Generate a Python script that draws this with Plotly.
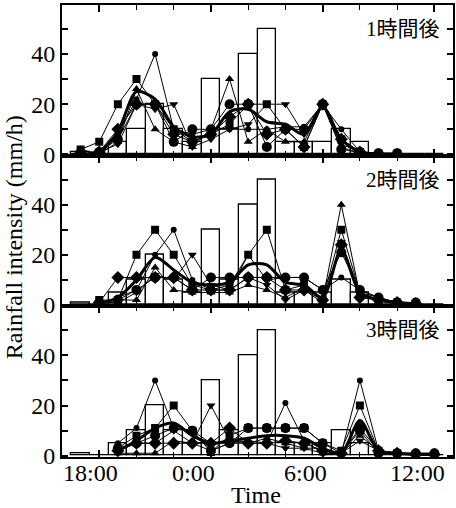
import plotly.graph_objects as go
from plotly.subplots import make_subplots

# ---------------- data ----------------
obs_hours = list(range(17, 37))
obs_rain = [1, 0, 5, 10, 20, 10, 5, 30, 10, 40, 50, 5, 5, 5, 10, 5, 0, 0, 0, 0]

panel_labels = ["1時間後", "2時間後", "3時間後"]

hours_p1 = list(range(17, 35))
hours_p2 = list(range(18, 36))
hours_p3 = list(range(19, 37))

# panel 1 (1 hour ahead)
p1_small_circle = [0, 0, 8, 22, 40, 10, 8, 10, 10, 10, 10, 11, 11, 20, 10, 1, 0.5, 0.5]
p1_big_circle   = [0, 1, 6, 20, 20, 5, 10, 10, 20, 20, 3, 10, 10, 20, 2, 1, 0.5, 0.5]
p1_square       = [2, 5, 20, 30, 20, 10, 5, 8, 12, 20, 20, 10, 3, 20, 6, 1, 0, 0]
p1_tri_up       = [2, 0, 5, 26, 10, 5, 3, 10, 30, 5, 10, 5, 5, 20, 3, 0, 0, 0]
p1_tri_down     = [0, 1, 4, 20, 18, 20, 3, 6, 10, 12, 20, 20, 8, 20, 4, 1, 0, 0]
p1_diamond      = [1, 1, 10, 20, 20, 8, 5, 8, 15, 20, 8, 10, 3, 20, 6, 1, 0, 0]
p1_thick        = [0, 1, 9, 25, 22, 11, 7, 8, 17, 18, 13, 12, 8, 19, 6, 1, 0, 0]

# panel 2 (2 hours ahead)
p2_small_circle = [1, 3, 6, 20, 30, 10, 6, 6, 20, 10, 11, 11, 6, 11, 6, 3, 1, 1]
p2_big_circle   = [1, 2, 6, 11, 11, 6, 11, 11, 11, 11, 11, 11, 6, 21, 6, 3, 1, 1]
p2_square       = [2, 2, 20, 30, 20, 8, 6, 8, 20, 30, 6, 8, 2, 30, 5, 2, 1, 0.5]
p2_tri_up       = [1, 2, 2, 15, 6, 5, 5, 5, 8, 6, 3, 7, 2, 40, 4, 2, 1, 0.5]
p2_tri_down     = [1, 1, 5, 12, 10, 20, 8, 6, 11, 8, 2, 6, 1, 25, 5, 3, 1, 0.5]
p2_diamond      = [1, 11, 11, 11, 11, 6, 6, 6, 11, 11, 6, 6, 2, 24, 3, 2, 1, 0.5]
p2_thick        = [0.5, 3, 10, 19, 14, 9, 8, 9, 16, 16, 9, 8, 3, 22, 5, 2, 1, 0.5]

# panel 3 (3 hours ahead)
p3_small_circle = [5, 11, 30, 11, 10, 5, 5, 6, 5, 21, 6, 1, 1, 30, 2, 1, 1, 1]
p3_big_circle   = [3, 5, 8, 11, 10, 2, 5, 11, 11, 11, 11, 5, 1, 10, 1, 1, 1, 1]
p3_square       = [3, 8, 11, 20, 10, 1.5, 8, 11, 11, 11, 11, 5, 2, 20, 2, 1, 0.5, 0.5]
p3_tri_up       = [1, 1, 1, 6, 5, 2, 5, 5, 7, 5, 3, 1, 1, 8, 2, 1, 0.5, 0.5]
p3_tri_down     = [2, 5, 5, 10, 5, 20, 6, 5, 5, 3, 3, 3, 1, 6, 2, 1, 0.5, 0.5]
p3_diamond      = [2, 5, 5, 5, 5, 5, 11, 5, 5, 6, 5, 2, 1, 11, 2, 1, 0.5, 0.5]
p3_thick        = [2, 6, 11, 13, 8, 5, 6, 7, 8, 8, 7, 3, 1, 14, 2, 1, 0.5, 0.5]

x_tickvals = [18, 24, 30, 36]
x_ticktext = ["18:00", "0:00", "6:00", "12:00"]
x_minor_ticks = [16, 20, 22, 26, 28, 32, 34]
y_tickvals = [0, 20, 40]
y_minor_ticks = [10, 30, 50]

panels = [
    (hours_p1, [p1_small_circle, p1_big_circle, p1_square, p1_tri_up, p1_tri_down, p1_diamond], p1_thick),
    (hours_p2, [p2_small_circle, p2_big_circle, p2_square, p2_tri_up, p2_tri_down, p2_diamond], p2_thick),
    (hours_p3, [p3_small_circle, p3_big_circle, p3_square, p3_tri_up, p3_tri_down, p3_diamond], p3_thick),
]

marker_styles = [
    dict(symbol="circle", size=6),
    dict(symbol="circle", size=10),
    dict(symbol="square", size=8),
    dict(symbol="triangle-up", size=8),
    dict(symbol="triangle-down", size=8),
    dict(symbol="diamond", size=10),
]

FONT = "Liberation Serif, Times New Roman, serif"

fig = make_subplots(rows=3, cols=1, shared_xaxes=True, vertical_spacing=0)

for i, (hrs, series, thick) in enumerate(panels):
    row = i + 1
    fig.add_trace(go.Bar(x=obs_hours, y=obs_rain, width=1,
                         marker=dict(color="white", line=dict(color="black", width=1.3)),
                         showlegend=False), row=row, col=1)
    for vals, ms in zip(series, marker_styles):
        fig.add_trace(go.Scatter(x=hrs, y=vals, mode="lines+markers",
                                 line=dict(color="black", width=1),
                                 marker=dict(color="black", **ms),
                                 showlegend=False), row=row, col=1)
    fig.add_trace(go.Scatter(x=hrs, y=thick, mode="lines",
                             line=dict(color="black", width=3, shape="spline", smoothing=0.8),
                             showlegend=False), row=row, col=1)
    fig.add_annotation(text=panel_labels[i], xref="x domain",
                       yref="y domain" if row == 1 else f"y{row} domain",
                       x=0.972, y=0.84, xanchor="right", yanchor="middle", showarrow=False,
                       font=dict(family="Liberation Serif, Noto Sans CJK JP", size=21, color="black"))

fig.update_xaxes(range=[16, 37], tickvals=x_tickvals, ticktext=x_ticktext, showticklabels=False,
                 ticks="inside", ticklen=7, tickwidth=1.5, tickcolor="black",
                 showline=True, linewidth=2, linecolor="black", mirror="allticks",
                 showgrid=False, zeroline=False,
                 minor=dict(tickvals=x_minor_ticks, ticks="inside", ticklen=5,
                            tickwidth=1.2, tickcolor="black", showgrid=False))

# x tick labels (written below the bottom panel, offset to the left as in the original print)
for tv, tt in zip(x_tickvals, x_ticktext):
    fig.add_annotation(text=tt, xref="x3", yref="paper", x=tv, y=0,
                       xanchor="center", yanchor="top", showarrow=False,
                       xshift=-9 if tv == x_tickvals[0] else -17, yshift=-1,
                       font=dict(family=FONT, size=24, color="black"))

fig.update_yaxes(range=[-0.5, 59.5], tickvals=y_tickvals,
                 ticks="inside", ticklen=6, tickwidth=1.5, tickcolor="black",
                 showline=True, linewidth=2, linecolor="black", mirror="allticks",
                 showgrid=False, zeroline=False,
                 minor=dict(tickvals=y_minor_ticks, ticks="inside", ticklen=6,
                            tickwidth=1.5, tickcolor="black", showgrid=False),
                 tickfont=dict(family=FONT, size=24, color="black"))

fig.add_annotation(text="Rainfall intensity (mm/h)", xref="paper", yref="paper",
                   x=-0.122, y=0.487, textangle=-90, showarrow=False,
                   xanchor="center", yanchor="middle",
                   font=dict(family=FONT, size=24, color="black"))
fig.add_annotation(text="Time", xref="paper", yref="paper",
                   x=0.496, y=-0.084, showarrow=False,
                   xanchor="center", yanchor="middle",
                   font=dict(family=FONT, size=24, color="black"))

fig.update_layout(width=456, height=508, margin=dict(l=62, r=1, t=5, b=51),
                  plot_bgcolor="white", paper_bgcolor="white", showlegend=False,
                  barmode="overlay", bargap=0,
                  font=dict(family=FONT, size=24, color="black"))

fig.write_html("out.html")
